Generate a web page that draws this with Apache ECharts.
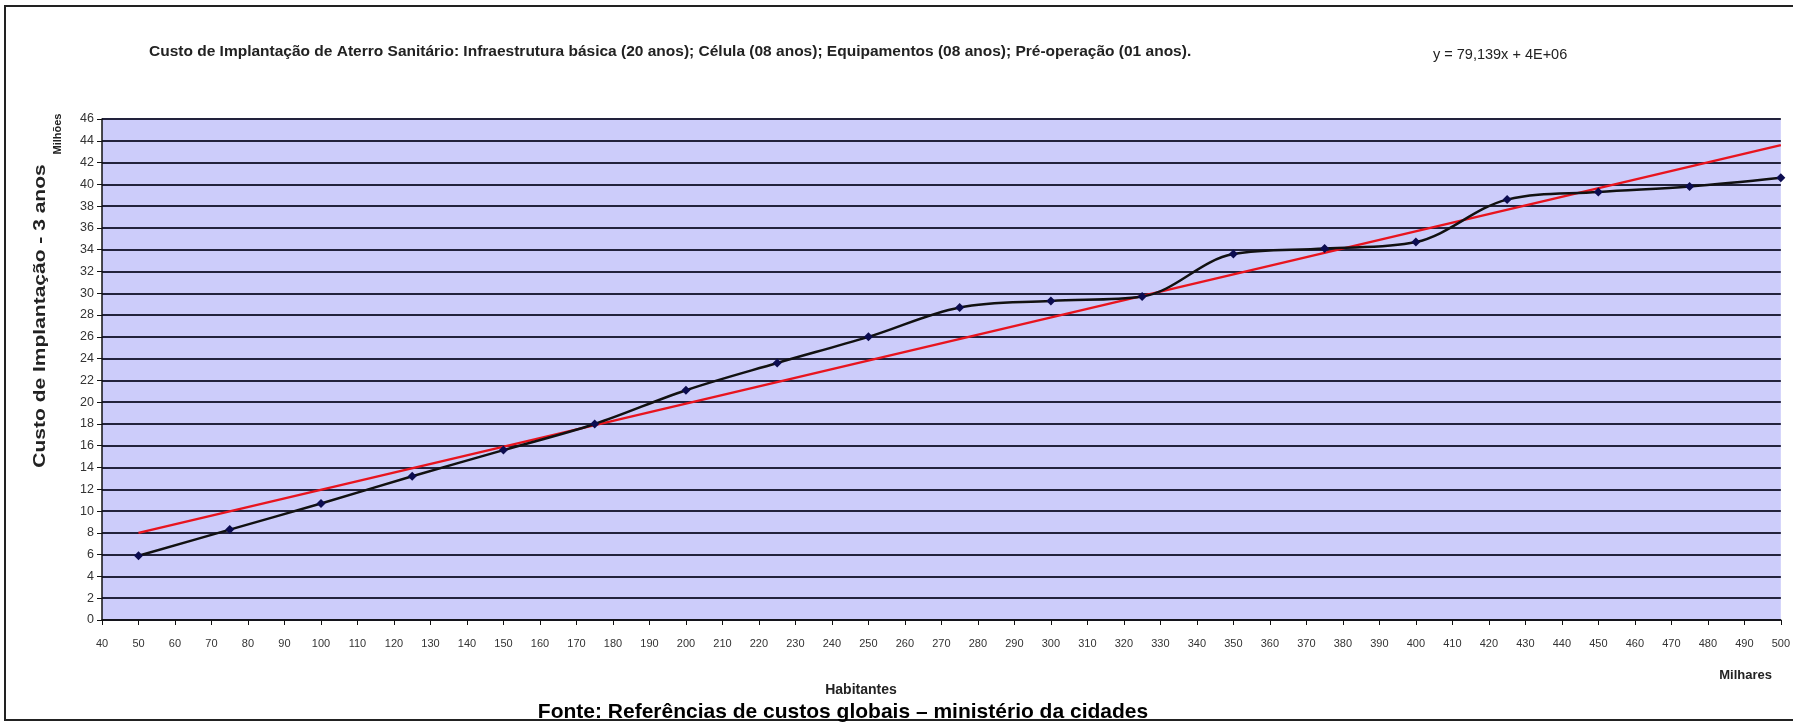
<!DOCTYPE html>
<html>
<head>
<meta charset="utf-8">
<title>Custo de Implantação de Aterro Sanitário</title>
<script src="https://cdn.jsdelivr.net/npm/echarts@6/dist/echarts.min.js"></script>
<style>
	html, body {margin:0; padding:0; background:#fff;}
	#custo_aterro_0 {width:1793px; height:722px;}
</style>
</head>
<body>
<div id="custo_aterro_0"></div>
<script>
/*custo de implantação - aterro sanitário*/

// habitantes (milhares)
var habitantes = [50, 75, 100, 125, 150, 175, 200, 225, 250, 275, 300, 325, 350, 375, 400, 425, 450, 475, 500];
// custo (milhões)
var custo = [5.9, 8.3, 10.7, 13.2, 15.6, 18.0, 21.1, 23.6, 26.0, 28.7, 29.3, 29.7, 33.6, 34.1, 34.7, 38.6, 39.3, 39.8, 40.6];
// linha de tendência (extremos)
var tendenciaX = [50, 500];
var tendenciaY = [8.0, 43.6];

var xTicks = {min: 40, max: 500, interval: 10};
var yTicks = {min: 0, max: 46, interval: 2};

var titulo = "Custo de Implantação de Aterro Sanitário: Infraestrutura básica (20 anos); Célula (08 anos); Equipamentos (08 anos); Pré-operação (01 anos).";
var equacao = "y = 79,139x + 4E+06";
var fonte = "Fonte: Referências de custos globais – ministério da cidades";

window.onload = function(){
	load_custo_aterro_0();
};

/**
 * gráfico de linha
 */
function load_custo_aterro_0(){
	var chart = echarts.init(document.getElementById("custo_aterro_0"));

	var pontos = [];
	for(var i = 0;i<habitantes.length;i++){
		pontos.push([habitantes[i], custo[i]]);
	}
	var tendencia = [];
	for(var j = 0;j<tendenciaX.length;j++){
		tendencia.push([tendenciaX[j], tendenciaY[j]]);
	}

	var labelFont = {color:'#333', fontSize:11, fontFamily:'Liberation Sans Narrow, Liberation Sans, Arial'};

	var options = {
		animation : false,
		textStyle : {fontFamily:'Liberation Sans, Arial'},
		grid : {
			left : 102,
			right : 12,
			top : 119,
			bottom : 102,
			show : true,
			backgroundColor : '#ccccfa',
			borderWidth : 0
		},
		xAxis : {
			type : 'value',
			min : xTicks.min,
			max : xTicks.max,
			interval : xTicks.interval,
			axisLine : {show:true, onZero:false, lineStyle:{color:'#111', width:1.5}},
			axisTick : {show:true, length:5, lineStyle:{color:'#111'}},
			axisLabel : {margin:18, color:labelFont.color, fontSize:labelFont.fontSize, fontFamily:labelFont.fontFamily},
			splitLine : {show:false}
		},
		yAxis : {
			type : 'value',
			min : yTicks.min,
			max : yTicks.max,
			interval : yTicks.interval,
			axisLine : {show:true, lineStyle:{color:'#111', width:1.5}},
			axisTick : {show:true, length:5, lineStyle:{color:'#111'}},
			axisLabel : {margin:8, color:labelFont.color, fontSize:12.5, fontFamily:labelFont.fontFamily},
			splitLine : {show:true, lineStyle:{color:'#22223c', width:2}}
		},
		series : [
			{
				name : 'tendencia',
				type : 'line',
				data : tendencia,
				symbol : 'none',
				lineStyle : {color:'#e8141e', width:2.5},
				z : 3
			},
			{
				name : 'custo',
				type : 'line',
				data : pontos,
				smooth : 0.35,
				symbol : 'diamond',
				symbolSize : 9,
				itemStyle : {color:'#0c0c50'},
				lineStyle : {color:'#111', width:2.5},
				z : 4
			}
		],
		graphic : [
			// moldura
			{
				type : 'rect',
				shape : {x:5, y:6, width:1800, height:714},
				style : {fill:'none', stroke:'#222', lineWidth:2},
				silent : true
			},
			{
				type : 'text',
				x : 149, y : 52,
				style : {text:titulo, fill:'#222', font:'bold 15.5px Liberation Sans, Arial', textVerticalAlign:'middle'}
			},
			{
				type : 'text',
				x : 1433, y : 55,
				style : {text:equacao, fill:'#222', font:'14.5px Liberation Sans Narrow, Liberation Sans, Arial', textVerticalAlign:'middle'}
			},
			{
				// nome do eixo y (mais estreito)
				type : 'text',
				x : 40, y : 316,
				rotation : Math.PI/2,
				scaleY : 0.8,
				style : {text:'Custo de Implantação - 3 anos', fill:'#222', font:'bold 21px Liberation Sans, Arial', textAlign:'center', textVerticalAlign:'middle'}
			},
			{
				type : 'text',
				x : 58, y : 134,
				rotation : Math.PI/2,
				style : {text:'Milhões', fill:'#222', font:'bold 11px Liberation Sans, Arial', textAlign:'center', textVerticalAlign:'middle'}
			},
			{
				type : 'text',
				x : 861, y : 690,
				style : {text:'Habitantes', fill:'#222', font:'bold 14px Liberation Sans Narrow, Liberation Sans, Arial', textAlign:'center', textVerticalAlign:'middle'}
			},
			{
				type : 'text',
				x : 1772, y : 675,
				style : {text:'Milhares', fill:'#222', font:'bold 13px Liberation Sans Narrow, Liberation Sans, Arial', textAlign:'right', textVerticalAlign:'middle'}
			},
			{
				type : 'text',
				x : 843, y : 712,
				style : {text:fonte, fill:'#000', font:'bold 21px Liberation Sans, Arial', textAlign:'center', textVerticalAlign:'middle'}
			}
		]
	};

	chart.setOption(options);
}
</script>
</body>
</html>
